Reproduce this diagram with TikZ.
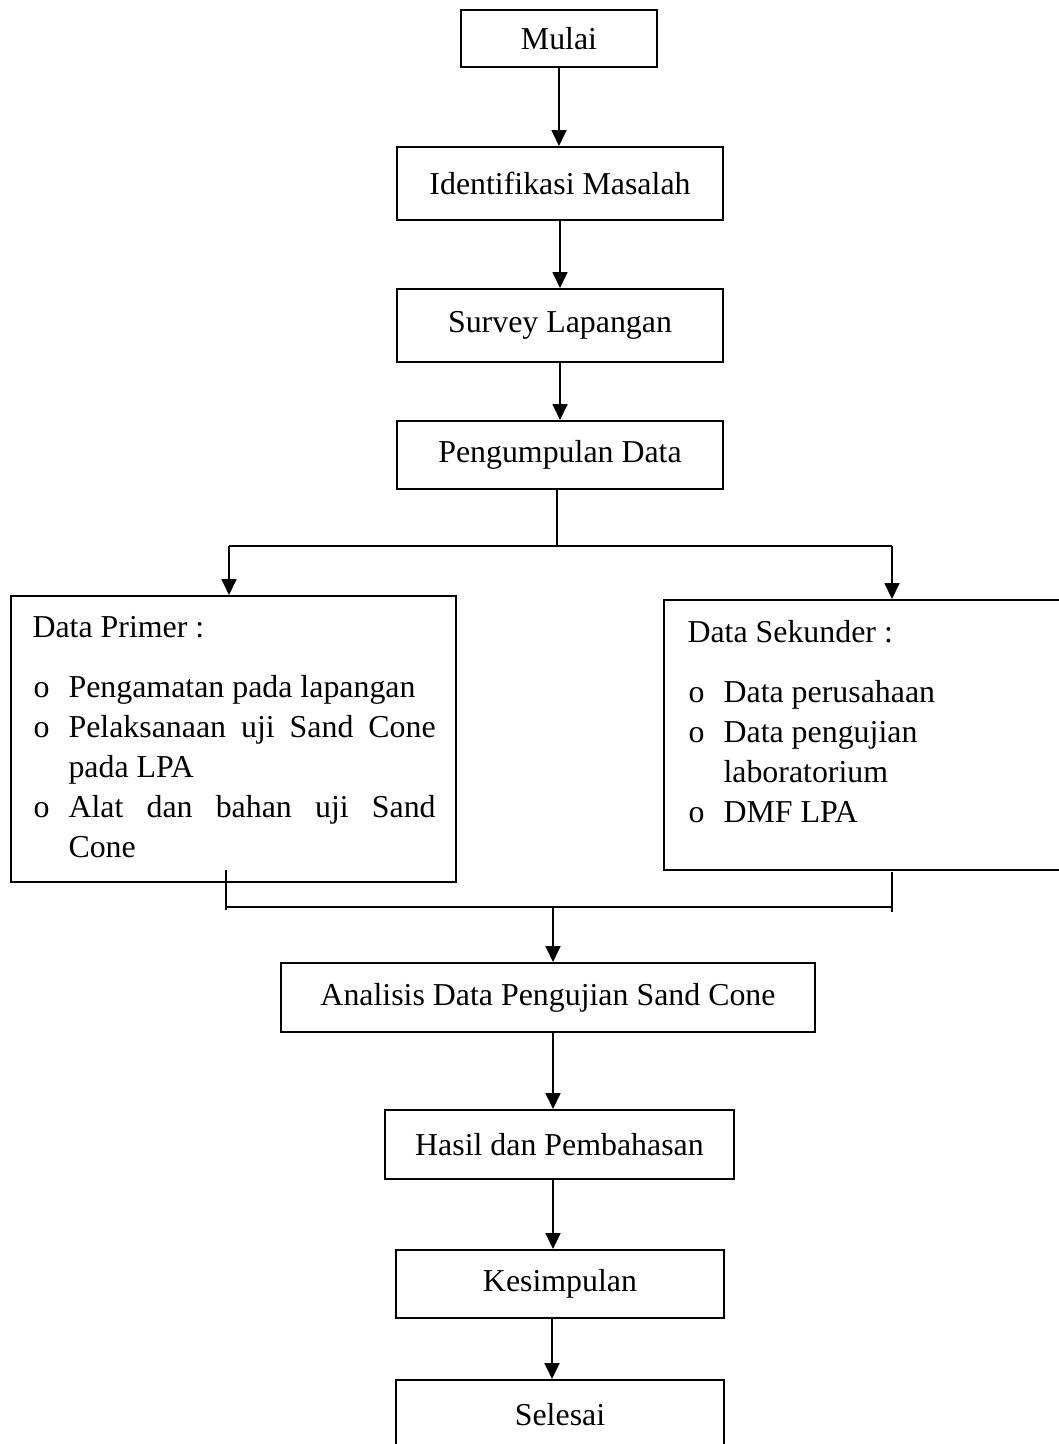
\documentclass[tikz,border=0pt]{standalone}
\usepackage{fontspec}
\setmainfont{Liberation Serif}
\usetikzlibrary{arrows.meta,calc,positioning}
\newcommand{\butir}{o}
\def\px{0.3765pt}

\begin{document}
\begin{tikzpicture}[x=0.3765pt,y=-0.3765pt,
    kotak/.style={draw, line width=0.75pt, inner sep=0pt, font=\fontsize{12}{14.4}\selectfont},
    teks/.style={inner sep=0pt, font=\fontsize{12}{14.4}\selectfont},
    panah/.style={line width=0.75pt, -{Triangle[length=6pt,width=5.6pt]}},
    garis/.style={line width=0.5pt}]
    \useasboundingbox (0,0) rectangle (1059,1444);
    \clip (0,0) rectangle (1059,1444);

    % kotak alur utama
    \node[kotak, minimum width=196*\px, minimum height=57*\px] (mulai) at (559,38.5) {Mulai};
    \node[kotak, minimum width=326*\px, minimum height=73*\px] (identifikasi) at (560,183.5) {Identifikasi Masalah};
    \node[kotak, minimum width=326*\px, minimum height=73*\px] (survey) at (560,325.5) {Survey Lapangan};
    \node[kotak, minimum width=326*\px, minimum height=68*\px] (kumpul) at (560,455) {Pengumpulan Data};
    \node[kotak, minimum width=445*\px, minimum height=286*\px] (primer) at (233.5,739) {};
    \node[kotak, minimum width=410*\px, minimum height=270*\px] (sekunder) at (869,735) {};
    \node[kotak, minimum width=534*\px, minimum height=69*\px] (analisis) at (548,997.5) {Analisis Data Pengujian Sand Cone};
    \node[kotak, minimum width=349*\px, minimum height=69*\px] (hasil) at (559.5,1144.5) {Hasil dan Pembahasan};
    \node[kotak, minimum width=328*\px, minimum height=68*\px] (simpul) at (560,1284) {Kesimpulan};
    \node[kotak, minimum width=328*\px, minimum height=70*\px] (selesai) at (560,1415) {Selesai};

    % isi data primer
    \node[teks, anchor=base west] (judulprimer) at (32,637) {Data Primer :};
    \node[teks, anchor=base west] (primer1) at (33,697) {\makebox[13.2pt][l]{\butir}Pengamatan pada lapangan};
    \node[teks, anchor=base west] (primer2) at (33,737) {\makebox[13.2pt][l]{\butir}\makebox[138.2pt][s]{Pelaksanaan uji Sand Cone}};
    \node[teks, anchor=base west] (primer3) at (68,777) {pada LPA};
    \node[teks, anchor=base west] (primer4) at (33,817) {\makebox[13.2pt][l]{\butir}\makebox[138.2pt][s]{Alat dan bahan uji Sand}};
    \node[teks, anchor=base west] (primer5) at (68,857) {Cone};

    % isi data sekunder
    \node[teks, anchor=base west] (judulsekunder) at (687,642) {Data Sekunder :};
    \node[teks, anchor=base west] (sekunder1) at (688,702) {\makebox[13.2pt][l]{\butir}Data perusahaan};
    \node[teks, anchor=base west] (sekunder2) at (688,742) {\makebox[13.2pt][l]{\butir}Data pengujian};
    \node[teks, anchor=base west] (sekunder3) at (723,782) {laboratorium};
    \node[teks, anchor=base west] (sekunder4) at (688,822) {\makebox[13.2pt][l]{\butir}DMF LPA};

    % panah atas
    \draw[panah] (mulai.south) -- (mulai.south |- identifikasi.north);
    \draw[panah] (identifikasi.south) -- (identifikasi.south |- survey.north);
    \draw[panah] (survey.south) -- (survey.south |- kumpul.north);

    % percabangan
    \coordinate (cabang) at (557,546);
    \coordinate (kiri) at (229,546);
    \coordinate (kanan) at (892,546);
    \draw[garis] (kumpul.south -| cabang) -- (cabang);
    \draw[line width=0.75pt] (kiri) -- (kanan);
    \draw[panah] (kiri) -- (kiri |- primer.north);
    \draw[panah] (kanan) -- (kanan |- sekunder.north);

    % penggabungan
    \coordinate (ekorkiri) at (226,870);
    \coordinate (ujungkiri) at (226,910);
    \coordinate (ekorkanan) at (892,872);
    \coordinate (ujungkanan) at (892,912);
    \coordinate (gabung) at (553,907);
    \draw[garis] (ekorkiri) -- (ujungkiri);
    \draw[garis] (ekorkanan) -- (ujungkanan);
    \draw[line width=0.75pt] (ekorkiri |- gabung) -- (ekorkanan |- gabung);
    \draw[panah] (gabung) -- (gabung |- analisis.north);

    % panah bawah
    \draw[panah] (analisis.south -| gabung) -- (gabung |- hasil.north);
    \draw[panah] (hasil.south -| gabung) -- (gabung |- simpul.north);
    \draw[panah] ($(simpul.south)+(-8,0)$) -- ($(selesai.north)+(-8,0)$);
\end{tikzpicture}
\end{document}
